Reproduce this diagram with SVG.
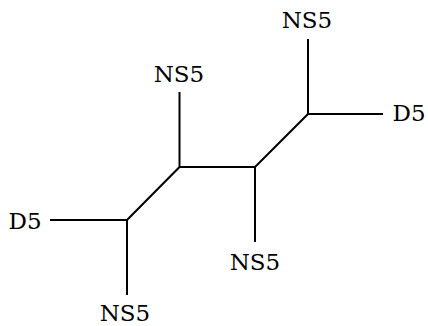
<svg xmlns="http://www.w3.org/2000/svg" width="428" height="326" viewBox="0 0 428 326">
  <style>
    .edge { stroke: #000; stroke-width: 2; fill: none; stroke-linecap: butt; stroke-linejoin: miter; }
    .lbl { font-family: 'DejaVu Serif', serif; font-size: 23px; fill: #000; text-anchor: middle; }
  </style>
  <rect width="428" height="326" fill="#fff"/>
  <g id="connectors">
    <path class="edge" d="M50,220 H127 V295"/>
    <path class="edge" d="M127,220 L179.5,167 V92"/>
    <path class="edge" d="M179.5,167 H255 V242"/>
    <path class="edge" d="M255,167 L308,114 V39"/>
    <path class="edge" d="M308,114 H383"/>
  </g>
  <g id="d5-left"><text class="lbl" x="25" y="229">D5</text></g>
  <g id="ns5-bottom-left"><text class="lbl" x="125" y="321">NS5</text></g>
  <g id="ns5-top-left"><text class="lbl" x="179" y="82">NS5</text></g>
  <g id="ns5-bottom-right"><text class="lbl" x="255" y="270">NS5</text></g>
  <g id="ns5-top-right"><text class="lbl" x="307" y="28">NS5</text></g>
  <g id="d5-right"><text class="lbl" x="409" y="121">D5</text></g>
</svg>
